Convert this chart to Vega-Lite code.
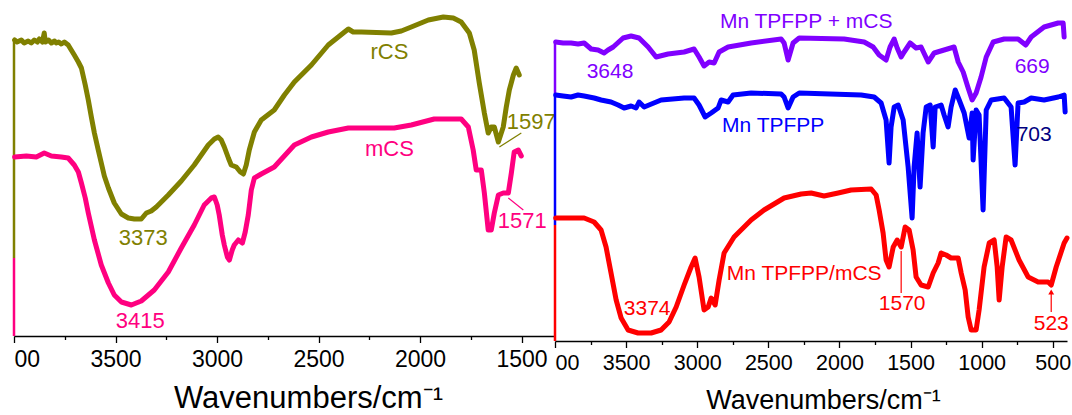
{
  "$schema": "https://vega.github.io/schema/vega-lite/v6.json",
  "padding": {"left": 12, "top": 0, "right": 0, "bottom": 0},
  "background": "white",
  "spacing": 0,
  "bounds": "flush",
  "align": "none",
  "resolve": {"scale": {"color": "independent"}},
  "config": {
    "view": {"stroke": null},
    "axis": {
      "grid": false,
      "domainColor": "#000000",
      "domainWidth": 1.3,
      "tickColor": "#000000",
      "tickWidth": 1.3,
      "labelColor": "#000000",
      "titleColor": "#000000",
      "labelFont": "Liberation Sans",
      "titleFont": "Liberation Sans",
      "titleFontWeight": "normal"
    }
  },
  "datasets": {
    "leftSpectra": [
      {"series":"rCS","wn":3997,"y":40},{"series":"rCS","wn":3985,"y":42},{"series":"rCS","wn":3964,"y":40},{"series":"rCS","wn":3950,"y":43},{"series":"rCS","wn":3930,"y":41},{"series":"rCS","wn":3915,"y":43},{"series":"rCS","wn":3900,"y":40},{"series":"rCS","wn":3885,"y":42},{"series":"rCS","wn":3875,"y":39},{"series":"rCS","wn":3860,"y":42},{"series":"rCS","wn":3851,"y":33},{"series":"rCS","wn":3846,"y":42},{"series":"rCS","wn":3830,"y":40},{"series":"rCS","wn":3816,"y":43},{"series":"rCS","wn":3800,"y":41},{"series":"rCS","wn":3792,"y":43},{"series":"rCS","wn":3780,"y":42},{"series":"rCS","wn":3767,"y":44},{"series":"rCS","wn":3752,"y":42},{"series":"rCS","wn":3733,"y":45},{"series":"rCS","wn":3718,"y":50},{"series":"rCS","wn":3703,"y":55},{"series":"rCS","wn":3683,"y":62},{"series":"rCS","wn":3668,"y":68},{"series":"rCS","wn":3649,"y":85},{"series":"rCS","wn":3634,"y":100},{"series":"rCS","wn":3619,"y":117},{"series":"rCS","wn":3604,"y":133},{"series":"rCS","wn":3585,"y":150},{"series":"rCS","wn":3570,"y":163},{"series":"rCS","wn":3555,"y":176},{"series":"rCS","wn":3535,"y":188},{"series":"rCS","wn":3506,"y":203},{"series":"rCS","wn":3471,"y":214},{"series":"rCS","wn":3437,"y":218},{"series":"rCS","wn":3407,"y":219},{"series":"rCS","wn":3373,"y":219},{"series":"rCS","wn":3348,"y":213},{"series":"rCS","wn":3324,"y":211},{"series":"rCS","wn":3299,"y":207},{"series":"rCS","wn":3240,"y":195},{"series":"rCS","wn":3176,"y":181},{"series":"rCS","wn":3112,"y":165},{"series":"rCS","wn":3043,"y":145},{"series":"rCS","wn":3013,"y":139},{"series":"rCS","wn":2994,"y":137},{"series":"rCS","wn":2979,"y":140},{"series":"rCS","wn":2964,"y":147},{"series":"rCS","wn":2944,"y":158},{"series":"rCS","wn":2930,"y":165},{"series":"rCS","wn":2905,"y":167},{"series":"rCS","wn":2885,"y":172},{"series":"rCS","wn":2870,"y":174},{"series":"rCS","wn":2856,"y":165},{"series":"rCS","wn":2841,"y":150},{"series":"rCS","wn":2816,"y":132},{"series":"rCS","wn":2782,"y":120},{"series":"rCS","wn":2718,"y":110},{"series":"rCS","wn":2668,"y":95},{"series":"rCS","wn":2619,"y":82},{"series":"rCS","wn":2535,"y":65},{"series":"rCS","wn":2452,"y":45},{"series":"rCS","wn":2378,"y":33},{"series":"rCS","wn":2353,"y":29},{"series":"rCS","wn":2329,"y":32},{"series":"rCS","wn":2289,"y":32},{"series":"rCS","wn":2141,"y":33},{"series":"rCS","wn":2092,"y":31},{"series":"rCS","wn":2043,"y":27},{"series":"rCS","wn":1959,"y":20},{"series":"rCS","wn":1885,"y":17},{"series":"rCS","wn":1836,"y":18},{"series":"rCS","wn":1797,"y":22},{"series":"rCS","wn":1757,"y":33},{"series":"rCS","wn":1733,"y":50},{"series":"rCS","wn":1708,"y":83},{"series":"rCS","wn":1683,"y":113},{"series":"rCS","wn":1664,"y":133},{"series":"rCS","wn":1649,"y":127},{"series":"rCS","wn":1634,"y":127},{"series":"rCS","wn":1614,"y":142},{"series":"rCS","wn":1590,"y":127},{"series":"rCS","wn":1575,"y":107},{"series":"rCS","wn":1560,"y":90},{"series":"rCS","wn":1540,"y":75},{"series":"rCS","wn":1526,"y":68},{"series":"rCS","wn":1511,"y":75},
      {"series":"mCS","wn":3997,"y":157},{"series":"mCS","wn":3939,"y":156},{"series":"mCS","wn":3890,"y":157},{"series":"mCS","wn":3851,"y":153},{"series":"mCS","wn":3816,"y":156},{"series":"mCS","wn":3767,"y":157},{"series":"mCS","wn":3733,"y":158},{"series":"mCS","wn":3703,"y":165},{"series":"mCS","wn":3683,"y":172},{"series":"mCS","wn":3668,"y":183},{"series":"mCS","wn":3649,"y":198},{"series":"mCS","wn":3634,"y":213},{"series":"mCS","wn":3604,"y":240},{"series":"mCS","wn":3570,"y":265},{"series":"mCS","wn":3535,"y":283},{"series":"mCS","wn":3506,"y":295},{"series":"mCS","wn":3471,"y":302},{"series":"mCS","wn":3422,"y":305},{"series":"mCS","wn":3373,"y":301},{"series":"mCS","wn":3309,"y":290},{"series":"mCS","wn":3240,"y":272},{"series":"mCS","wn":3176,"y":248},{"series":"mCS","wn":3112,"y":225},{"series":"mCS","wn":3063,"y":205},{"series":"mCS","wn":3028,"y":198},{"series":"mCS","wn":3013,"y":197},{"series":"mCS","wn":2999,"y":205},{"series":"mCS","wn":2989,"y":215},{"series":"mCS","wn":2974,"y":235},{"series":"mCS","wn":2964,"y":245},{"series":"mCS","wn":2949,"y":257},{"series":"mCS","wn":2939,"y":260},{"series":"mCS","wn":2925,"y":250},{"series":"mCS","wn":2915,"y":245},{"series":"mCS","wn":2895,"y":240},{"series":"mCS","wn":2875,"y":243},{"series":"mCS","wn":2861,"y":232},{"series":"mCS","wn":2846,"y":215},{"series":"mCS","wn":2831,"y":190},{"series":"mCS","wn":2816,"y":178},{"series":"mCS","wn":2782,"y":174},{"series":"mCS","wn":2718,"y":167},{"series":"mCS","wn":2619,"y":145},{"series":"mCS","wn":2535,"y":137},{"series":"mCS","wn":2452,"y":132},{"series":"mCS","wn":2353,"y":128},{"series":"mCS","wn":2127,"y":128},{"series":"mCS","wn":2043,"y":125},{"series":"mCS","wn":1930,"y":119},{"series":"mCS","wn":1797,"y":119},{"series":"mCS","wn":1762,"y":127},{"series":"mCS","wn":1738,"y":150},{"series":"mCS","wn":1723,"y":170},{"series":"mCS","wn":1698,"y":170},{"series":"mCS","wn":1683,"y":193},{"series":"mCS","wn":1664,"y":230},{"series":"mCS","wn":1649,"y":230},{"series":"mCS","wn":1634,"y":213},{"series":"mCS","wn":1614,"y":195},{"series":"mCS","wn":1590,"y":193},{"series":"mCS","wn":1565,"y":193},{"series":"mCS","wn":1550,"y":173},{"series":"mCS","wn":1536,"y":152},{"series":"mCS","wn":1516,"y":150},{"series":"mCS","wn":1501,"y":156}
    ],
    "leftAxisLines": [
      {"series":"mCS","wn":4000,"y":258,"y2":336},
      {"series":"rCS","wn":4000,"y":40,"y2":258}
    ],
    "leftLeaders": [
      {"series":"rCS","wn":1609,"y":147,"wn2":1501,"y2":133},
      {"series":"mCS","wn":1565,"y":198,"wn2":1491,"y2":210}
    ],
    "leftNotes": [
      {"series":"rCS","wn":2151,"y":52,"text":"rCS"},
      {"series":"mCS","wn":2151,"y":149,"text":"mCS"},
      {"series":"rCS","wn":3363,"y":238,"text":"3373"},
      {"series":"mCS","wn":3378,"y":321,"text":"3415"},
      {"series":"rCS","wn":1452,"y":122,"text":"1597"},
      {"series":"mCS","wn":1496,"y":221,"text":"1571"}
    ],
    "rightSpectra": [
      {"series":"Mn TPFPP + mCS","wn":3995,"y":42},{"series":"Mn TPFPP + mCS","wn":3943,"y":43},{"series":"Mn TPFPP + mCS","wn":3887,"y":43},{"series":"Mn TPFPP + mCS","wn":3838,"y":44},{"series":"Mn TPFPP + mCS","wn":3795,"y":43},{"series":"Mn TPFPP + mCS","wn":3746,"y":49},{"series":"Mn TPFPP + mCS","wn":3697,"y":50},{"series":"Mn TPFPP + mCS","wn":3655,"y":53},{"series":"Mn TPFPP + mCS","wn":3627,"y":50},{"series":"Mn TPFPP + mCS","wn":3591,"y":47},{"series":"Mn TPFPP + mCS","wn":3521,"y":38},{"series":"Mn TPFPP + mCS","wn":3465,"y":36},{"series":"Mn TPFPP + mCS","wn":3409,"y":38},{"series":"Mn TPFPP + mCS","wn":3345,"y":47},{"series":"Mn TPFPP + mCS","wn":3289,"y":57},{"series":"Mn TPFPP + mCS","wn":3205,"y":54},{"series":"Mn TPFPP + mCS","wn":3092,"y":52},{"series":"Mn TPFPP + mCS","wn":3022,"y":49},{"series":"Mn TPFPP + mCS","wn":2987,"y":57},{"series":"Mn TPFPP + mCS","wn":2952,"y":66},{"series":"Mn TPFPP + mCS","wn":2916,"y":62},{"series":"Mn TPFPP + mCS","wn":2881,"y":63},{"series":"Mn TPFPP + mCS","wn":2846,"y":52},{"series":"Mn TPFPP + mCS","wn":2783,"y":47},{"series":"Mn TPFPP + mCS","wn":2621,"y":43},{"series":"Mn TPFPP + mCS","wn":2410,"y":39},{"series":"Mn TPFPP + mCS","wn":2389,"y":43},{"series":"Mn TPFPP + mCS","wn":2361,"y":60},{"series":"Mn TPFPP + mCS","wn":2326,"y":43},{"series":"Mn TPFPP + mCS","wn":2283,"y":38},{"series":"Mn TPFPP + mCS","wn":1967,"y":39},{"series":"Mn TPFPP + mCS","wn":1826,"y":42},{"series":"Mn TPFPP + mCS","wn":1763,"y":47},{"series":"Mn TPFPP + mCS","wn":1721,"y":55},{"series":"Mn TPFPP + mCS","wn":1672,"y":60},{"series":"Mn TPFPP + mCS","wn":1644,"y":47},{"series":"Mn TPFPP + mCS","wn":1615,"y":39},{"series":"Mn TPFPP + mCS","wn":1594,"y":48},{"series":"Mn TPFPP + mCS","wn":1566,"y":57},{"series":"Mn TPFPP + mCS","wn":1545,"y":52},{"series":"Mn TPFPP + mCS","wn":1503,"y":43},{"series":"Mn TPFPP + mCS","wn":1461,"y":48},{"series":"Mn TPFPP + mCS","wn":1426,"y":47},{"series":"Mn TPFPP + mCS","wn":1376,"y":62},{"series":"Mn TPFPP + mCS","wn":1334,"y":53},{"series":"Mn TPFPP + mCS","wn":1264,"y":50},{"series":"Mn TPFPP + mCS","wn":1194,"y":47},{"series":"Mn TPFPP + mCS","wn":1165,"y":62},{"series":"Mn TPFPP + mCS","wn":1130,"y":72},{"series":"Mn TPFPP + mCS","wn":1095,"y":88},{"series":"Mn TPFPP + mCS","wn":1067,"y":100},{"series":"Mn TPFPP + mCS","wn":1039,"y":93},{"series":"Mn TPFPP + mCS","wn":1004,"y":77},{"series":"Mn TPFPP + mCS","wn":968,"y":57},{"series":"Mn TPFPP + mCS","wn":919,"y":42},{"series":"Mn TPFPP + mCS","wn":842,"y":39},{"series":"Mn TPFPP + mCS","wn":744,"y":39},{"series":"Mn TPFPP + mCS","wn":690,"y":45},{"series":"Mn TPFPP + mCS","wn":652,"y":37},{"series":"Mn TPFPP + mCS","wn":561,"y":27},{"series":"Mn TPFPP + mCS","wn":462,"y":23},{"series":"Mn TPFPP + mCS","wn":427,"y":23},{"series":"Mn TPFPP + mCS","wn":420,"y":37},
      {"series":"Mn TPFPP","wn":3995,"y":95},{"series":"Mn TPFPP","wn":3943,"y":96},{"series":"Mn TPFPP","wn":3887,"y":97},{"series":"Mn TPFPP","wn":3838,"y":95},{"series":"Mn TPFPP","wn":3795,"y":96},{"series":"Mn TPFPP","wn":3725,"y":98},{"series":"Mn TPFPP","wn":3676,"y":100},{"series":"Mn TPFPP","wn":3606,"y":102},{"series":"Mn TPFPP","wn":3556,"y":105},{"series":"Mn TPFPP","wn":3514,"y":108},{"series":"Mn TPFPP","wn":3465,"y":106},{"series":"Mn TPFPP","wn":3430,"y":108},{"series":"Mn TPFPP","wn":3409,"y":102},{"series":"Mn TPFPP","wn":3373,"y":107},{"series":"Mn TPFPP","wn":3254,"y":100},{"series":"Mn TPFPP","wn":3092,"y":98},{"series":"Mn TPFPP","wn":3022,"y":98},{"series":"Mn TPFPP","wn":2987,"y":105},{"series":"Mn TPFPP","wn":2944,"y":117},{"series":"Mn TPFPP","wn":2902,"y":113},{"series":"Mn TPFPP","wn":2853,"y":108},{"series":"Mn TPFPP","wn":2832,"y":100},{"series":"Mn TPFPP","wn":2783,"y":102},{"series":"Mn TPFPP","wn":2748,"y":95},{"series":"Mn TPFPP","wn":2621,"y":93},{"series":"Mn TPFPP","wn":2410,"y":94},{"series":"Mn TPFPP","wn":2389,"y":97},{"series":"Mn TPFPP","wn":2361,"y":108},{"series":"Mn TPFPP","wn":2326,"y":97},{"series":"Mn TPFPP","wn":2283,"y":93},{"series":"Mn TPFPP","wn":1847,"y":95},{"series":"Mn TPFPP","wn":1756,"y":97},{"series":"Mn TPFPP","wn":1707,"y":103},{"series":"Mn TPFPP","wn":1672,"y":120},{"series":"Mn TPFPP","wn":1651,"y":163},{"series":"Mn TPFPP","wn":1637,"y":127},{"series":"Mn TPFPP","wn":1615,"y":107},{"series":"Mn TPFPP","wn":1587,"y":105},{"series":"Mn TPFPP","wn":1552,"y":120},{"series":"Mn TPFPP","wn":1517,"y":167},{"series":"Mn TPFPP","wn":1489,"y":218},{"series":"Mn TPFPP","wn":1475,"y":167},{"series":"Mn TPFPP","wn":1454,"y":133},{"series":"Mn TPFPP","wn":1433,"y":187},{"series":"Mn TPFPP","wn":1412,"y":133},{"series":"Mn TPFPP","wn":1390,"y":107},{"series":"Mn TPFPP","wn":1362,"y":105},{"series":"Mn TPFPP","wn":1341,"y":147},{"series":"Mn TPFPP","wn":1327,"y":107},{"series":"Mn TPFPP","wn":1285,"y":105},{"series":"Mn TPFPP","wn":1264,"y":115},{"series":"Mn TPFPP","wn":1236,"y":127},{"series":"Mn TPFPP","wn":1215,"y":107},{"series":"Mn TPFPP","wn":1186,"y":90},{"series":"Mn TPFPP","wn":1158,"y":100},{"series":"Mn TPFPP","wn":1123,"y":113},{"series":"Mn TPFPP","wn":1088,"y":138},{"series":"Mn TPFPP","wn":1067,"y":113},{"series":"Mn TPFPP","wn":1060,"y":160},{"series":"Mn TPFPP","wn":1039,"y":110},{"series":"Mn TPFPP","wn":1018,"y":115},{"series":"Mn TPFPP","wn":990,"y":210},{"series":"Mn TPFPP","wn":968,"y":110},{"series":"Mn TPFPP","wn":933,"y":100},{"series":"Mn TPFPP","wn":842,"y":98},{"series":"Mn TPFPP","wn":793,"y":107},{"series":"Mn TPFPP","wn":765,"y":165},{"series":"Mn TPFPP","wn":744,"y":103},{"series":"Mn TPFPP","wn":701,"y":102},{"series":"Mn TPFPP","wn":652,"y":98},{"series":"Mn TPFPP","wn":561,"y":100},{"series":"Mn TPFPP","wn":462,"y":97},{"series":"Mn TPFPP","wn":420,"y":95},{"series":"Mn TPFPP","wn":413,"y":112},
      {"series":"Mn TPFPP/mCS","wn":3995,"y":218},{"series":"Mn TPFPP/mCS","wn":3887,"y":218},{"series":"Mn TPFPP/mCS","wn":3795,"y":218},{"series":"Mn TPFPP/mCS","wn":3725,"y":222},{"series":"Mn TPFPP/mCS","wn":3676,"y":230},{"series":"Mn TPFPP/mCS","wn":3641,"y":247},{"series":"Mn TPFPP/mCS","wn":3606,"y":273},{"series":"Mn TPFPP/mCS","wn":3570,"y":300},{"series":"Mn TPFPP/mCS","wn":3535,"y":318},{"series":"Mn TPFPP/mCS","wn":3486,"y":330},{"series":"Mn TPFPP/mCS","wn":3416,"y":333},{"series":"Mn TPFPP/mCS","wn":3324,"y":333},{"series":"Mn TPFPP/mCS","wn":3254,"y":330},{"series":"Mn TPFPP/mCS","wn":3198,"y":322},{"series":"Mn TPFPP/mCS","wn":3148,"y":307},{"series":"Mn TPFPP/mCS","wn":3092,"y":285},{"series":"Mn TPFPP/mCS","wn":3043,"y":267},{"series":"Mn TPFPP/mCS","wn":3015,"y":258},{"series":"Mn TPFPP/mCS","wn":2987,"y":277},{"series":"Mn TPFPP/mCS","wn":2952,"y":310},{"series":"Mn TPFPP/mCS","wn":2923,"y":307},{"series":"Mn TPFPP/mCS","wn":2902,"y":298},{"series":"Mn TPFPP/mCS","wn":2874,"y":305},{"series":"Mn TPFPP/mCS","wn":2846,"y":280},{"series":"Mn TPFPP/mCS","wn":2811,"y":253},{"series":"Mn TPFPP/mCS","wn":2741,"y":237},{"series":"Mn TPFPP/mCS","wn":2621,"y":220},{"series":"Mn TPFPP/mCS","wn":2530,"y":210},{"series":"Mn TPFPP/mCS","wn":2389,"y":198},{"series":"Mn TPFPP/mCS","wn":2269,"y":194},{"series":"Mn TPFPP/mCS","wn":2199,"y":193},{"series":"Mn TPFPP/mCS","wn":2108,"y":196},{"series":"Mn TPFPP/mCS","wn":2009,"y":193},{"series":"Mn TPFPP/mCS","wn":1918,"y":190},{"series":"Mn TPFPP/mCS","wn":1777,"y":189},{"series":"Mn TPFPP/mCS","wn":1742,"y":195},{"series":"Mn TPFPP/mCS","wn":1721,"y":210},{"series":"Mn TPFPP/mCS","wn":1693,"y":233},{"series":"Mn TPFPP/mCS","wn":1672,"y":260},{"series":"Mn TPFPP/mCS","wn":1651,"y":267},{"series":"Mn TPFPP/mCS","wn":1622,"y":247},{"series":"Mn TPFPP/mCS","wn":1594,"y":240},{"series":"Mn TPFPP/mCS","wn":1566,"y":247},{"series":"Mn TPFPP/mCS","wn":1538,"y":227},{"series":"Mn TPFPP/mCS","wn":1510,"y":230},{"series":"Mn TPFPP/mCS","wn":1482,"y":250},{"series":"Mn TPFPP/mCS","wn":1461,"y":277},{"series":"Mn TPFPP/mCS","wn":1426,"y":285},{"series":"Mn TPFPP/mCS","wn":1376,"y":287},{"series":"Mn TPFPP/mCS","wn":1341,"y":273},{"series":"Mn TPFPP/mCS","wn":1306,"y":263},{"series":"Mn TPFPP/mCS","wn":1285,"y":253},{"series":"Mn TPFPP/mCS","wn":1250,"y":255},{"series":"Mn TPFPP/mCS","wn":1215,"y":258},{"series":"Mn TPFPP/mCS","wn":1165,"y":258},{"series":"Mn TPFPP/mCS","wn":1144,"y":273},{"series":"Mn TPFPP/mCS","wn":1116,"y":290},{"series":"Mn TPFPP/mCS","wn":1095,"y":317},{"series":"Mn TPFPP/mCS","wn":1074,"y":330},{"series":"Mn TPFPP/mCS","wn":1039,"y":330},{"series":"Mn TPFPP/mCS","wn":1018,"y":310},{"series":"Mn TPFPP/mCS","wn":983,"y":267},{"series":"Mn TPFPP/mCS","wn":947,"y":243},{"series":"Mn TPFPP/mCS","wn":912,"y":240},{"series":"Mn TPFPP/mCS","wn":891,"y":267},{"series":"Mn TPFPP/mCS","wn":877,"y":300},{"series":"Mn TPFPP/mCS","wn":856,"y":267},{"series":"Mn TPFPP/mCS","wn":828,"y":237},{"series":"Mn TPFPP/mCS","wn":793,"y":240},{"series":"Mn TPFPP/mCS","wn":737,"y":260},{"series":"Mn TPFPP/mCS","wn":673,"y":277},{"series":"Mn TPFPP/mCS","wn":603,"y":282},{"series":"Mn TPFPP/mCS","wn":533,"y":282},{"series":"Mn TPFPP/mCS","wn":511,"y":285},{"series":"Mn TPFPP/mCS","wn":476,"y":267},{"series":"Mn TPFPP/mCS","wn":420,"y":243},{"series":"Mn TPFPP/mCS","wn":400,"y":238}
    ],
    "rightAxisLines": [
      {"series":"Mn TPFPP/mCS","wn":4000,"y":225,"y2":341},
      {"series":"Mn TPFPP","wn":4000,"y":93,"y2":225},
      {"series":"Mn TPFPP + mCS","wn":4000,"y":41,"y2":93}
    ],
    "rightLeaders": [
      {"series":"Mn TPFPP/mCS","wn":1566,"y":251,"wn2":1566,"y2":293},
      {"series":"Mn TPFPP/mCS","wn":511,"y":312,"wn2":511,"y2":293}
    ],
    "rightArrowheads": [
      {"series":"Mn TPFPP/mCS","wn":511,"y":292}
    ],
    "rightNotes": [
      {"series":"Mn TPFPP + mCS","wn":2234,"y":22,"text":"Mn TPFPP + mCS"},
      {"series":"Mn TPFPP + mCS","wn":3613,"y":72,"text":"3648"},
      {"series":"Mn TPFPP + mCS","wn":645,"y":67,"text":"669"},
      {"series":"Mn TPFPP","wn":2466,"y":126,"text":"Mn TPFPP"},
      {"series":"band 703","wn":631,"y":135,"text":"703"},
      {"series":"Mn TPFPP/mCS","wn":2248,"y":274,"text":"Mn TPFPP/mCS"},
      {"series":"Mn TPFPP/mCS","wn":3352,"y":309,"text":"3374"},
      {"series":"Mn TPFPP/mCS","wn":1559,"y":304,"text":"1570"},
      {"series":"Mn TPFPP/mCS","wn":511,"y":324,"text":"523"}
    ]
  },
  "hconcat": [
    {
      "width": 541,
      "height": 336,
      "encoding": {
        "x": {
          "field": "wn", "type": "quantitative",
          "scale": {"domain": [1335, 4000], "reverse": true, "nice": false, "zero": false},
          "axis": {
            "values": [4000, 3750, 3500, 3250, 3000, 2750, 2500, 2250, 2000, 1750, 1500],
            "format": "d",
            "labelExpr": "datum.value % 500 === 0 ? (datum.value === 4000 ? '00' : datum.label) : ''",
            "tickSize": {"condition": {"test": "datum.value % 500 === 0", "value": 6.5}, "value": 3.5},
            "labelFontSize": 23,
            "labelPadding": 6,
            "labelFlush": true,
            "title": "Wavenumbers/cm⁻¹",
            "titleFontSize": 31,
            "titleX": 294,
            "titleY": 71,
            "titleAlign": "center",
            "titleBaseline": "alphabetic"
          }
        },
        "y": {
          "field": "y", "type": "quantitative",
          "scale": {"domain": [0, 336], "reverse": true, "nice": false, "zero": false},
          "axis": null
        },
        "color": {
          "field": "series", "type": "nominal",
          "scale": {"domain": ["rCS", "mCS"], "range": ["#808000", "#FF0080"]},
          "legend": null
        }
      },
      "layer": [
        {"data": {"name": "leftAxisLines"}, "mark": {"type": "rule", "strokeWidth": 2.5}, "encoding": {"y2": {"field": "y2"}}},
        {"data": {"name": "leftSpectra"}, "mark": {"type": "line", "strokeWidth": 5, "strokeJoin": "round", "strokeCap": "round"}, "encoding": {}},
        {"data": {"name": "leftLeaders"}, "mark": {"type": "rule", "strokeWidth": 1.2}, "encoding": {"x2": {"field": "wn2"}, "y2": {"field": "y2"}}},
        {"data": {"name": "leftNotes"}, "mark": {"type": "text", "font": "Liberation Sans", "fontSize": 22, "align": "center", "baseline": "middle"}, "encoding": {"text": {"field": "text"}}}
      ]
    },
    {
      "width": 512,
      "height": 341,
      "encoding": {
        "x": {
          "field": "wn", "type": "quantitative",
          "scale": {"domain": [400, 4000], "reverse": true, "nice": false, "zero": false},
          "axis": {
            "values": [4000, 3750, 3500, 3250, 3000, 2750, 2500, 2250, 2000, 1750, 1500, 1250, 1000, 750, 500],
            "format": "d",
            "labelExpr": "datum.value % 500 === 0 ? (datum.value === 4000 ? '00' : datum.label) : ''",
            "tickSize": {"condition": {"test": "datum.value % 500 === 0", "value": 6.5}, "value": 3.5},
            "labelFontSize": 21.5,
            "labelPadding": 5,
            "labelFlush": true,
            "title": "Wavenumbers/cm⁻¹",
            "titleFontSize": 27,
            "titleX": 268,
            "titleY": 67.5,
            "titleAlign": "center",
            "titleBaseline": "alphabetic"
          }
        },
        "y": {
          "field": "y", "type": "quantitative",
          "scale": {"domain": [0, 341], "reverse": true, "nice": false, "zero": false},
          "axis": null
        },
        "color": {
          "field": "series", "type": "nominal",
          "scale": {"domain": ["Mn TPFPP + mCS", "Mn TPFPP", "Mn TPFPP/mCS", "band 703"], "range": ["#8000FF", "#0000FF", "#FF0000", "#000080"]},
          "legend": null
        }
      },
      "layer": [
        {"data": {"name": "rightAxisLines"}, "mark": {"type": "rule", "strokeWidth": 2.5}, "encoding": {"y2": {"field": "y2"}}},
        {"data": {"name": "rightSpectra"}, "mark": {"type": "line", "strokeWidth": 5, "strokeJoin": "round", "strokeCap": "round"}, "encoding": {}},
        {"data": {"name": "rightLeaders"}, "mark": {"type": "rule", "strokeWidth": 1.2}, "encoding": {"x2": {"field": "wn2"}, "y2": {"field": "y2"}}},
        {"data": {"name": "rightArrowheads"}, "mark": {"type": "point", "shape": "triangle-up", "size": 35, "filled": true, "opacity": 1}, "encoding": {}},
        {"data": {"name": "rightNotes"}, "mark": {"type": "text", "font": "Liberation Sans", "fontSize": 21, "align": "center", "baseline": "middle"}, "encoding": {"text": {"field": "text"}}}
      ]
    }
  ]
}
